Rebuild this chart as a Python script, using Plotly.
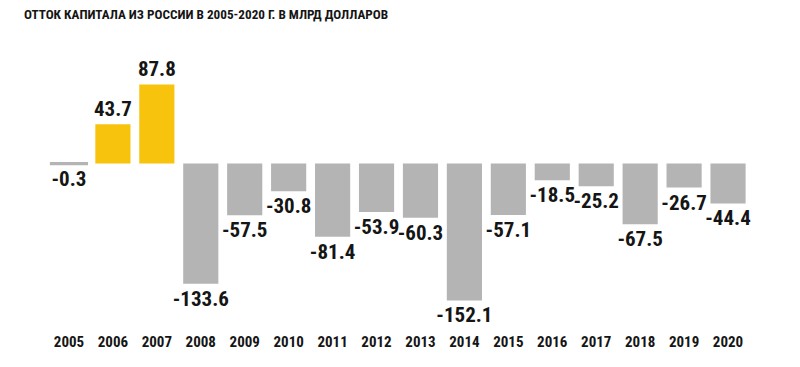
import plotly.graph_objects as go

years = [str(y) for y in range(2005, 2021)]
values = [-0.3, 43.7, 87.8, -133.6, -57.5, -30.8, -81.4, -53.9, -60.3, -152.1,
          -57.1, -18.5, -25.2, -67.5, -26.7, -44.4]
labels = ["-0.3", "43.7", "87.8", "-133.6", "-57.5", "-30.8", "-81.4", "-53.9", "-60.3",
          "-152.1", "-57.1", "-18.5", "-25.2", "-67.5", "-26.7", "-44.4"]
title_text = "ОТТОК КАПИТАЛА ИЗ РОССИИ В 2005-2020 Г. В МЛРД ДОЛЛАРОВ"

YELLOW = "#f7c30c"
GREY = "#b4b4b4"
colors = [YELLOW if v > 0 else GREY for v in values]
# tiny outline so the near-zero bar stays visible, as in the reference
line_widths = [3 if abs(v) < 1 else 0 for v in values]

FONT = "Roboto Condensed, Roboto, Liberation Sans, sans-serif"

fig = go.Figure(go.Bar(
    x=years, y=values, marker_color=colors,
    marker_line=dict(width=line_widths, color=GREY),
    text=labels, textposition="outside", constraintext="none", cliponaxis=False,
    textfont=dict(family=FONT, size=21, color="#151515", weight="bold"),
    hoverinfo="skip",
))

fig.update_layout(
    width=800, height=367,
    margin=dict(l=47, r=50, t=60, b=46),
    paper_bgcolor="white", plot_bgcolor="white",
    bargap=0.2,
    showlegend=False,
    title=dict(text=title_text, x=24/800, xanchor="left", xref="container",
               y=1 - 14/367, yanchor="middle", yref="container",
               font=dict(family=FONT, size=13.2, color="#151515", weight="bold")),
    xaxis=dict(showgrid=False, zeroline=False, showline=False, ticks="",
               tickangle=0, ticklabelstandoff=10,
               tickfont=dict(family=FONT, size=15, color="#151515", weight="bold")),
    yaxis=dict(range=[-175, 115], showgrid=False, zeroline=False, showline=False,
               showticklabels=False, ticks=""),
)

fig.write_html("out.html", config={"displayModeBar": False},
               post_script="document.body.style.margin='0';document.body.style.overflow='hidden';")
